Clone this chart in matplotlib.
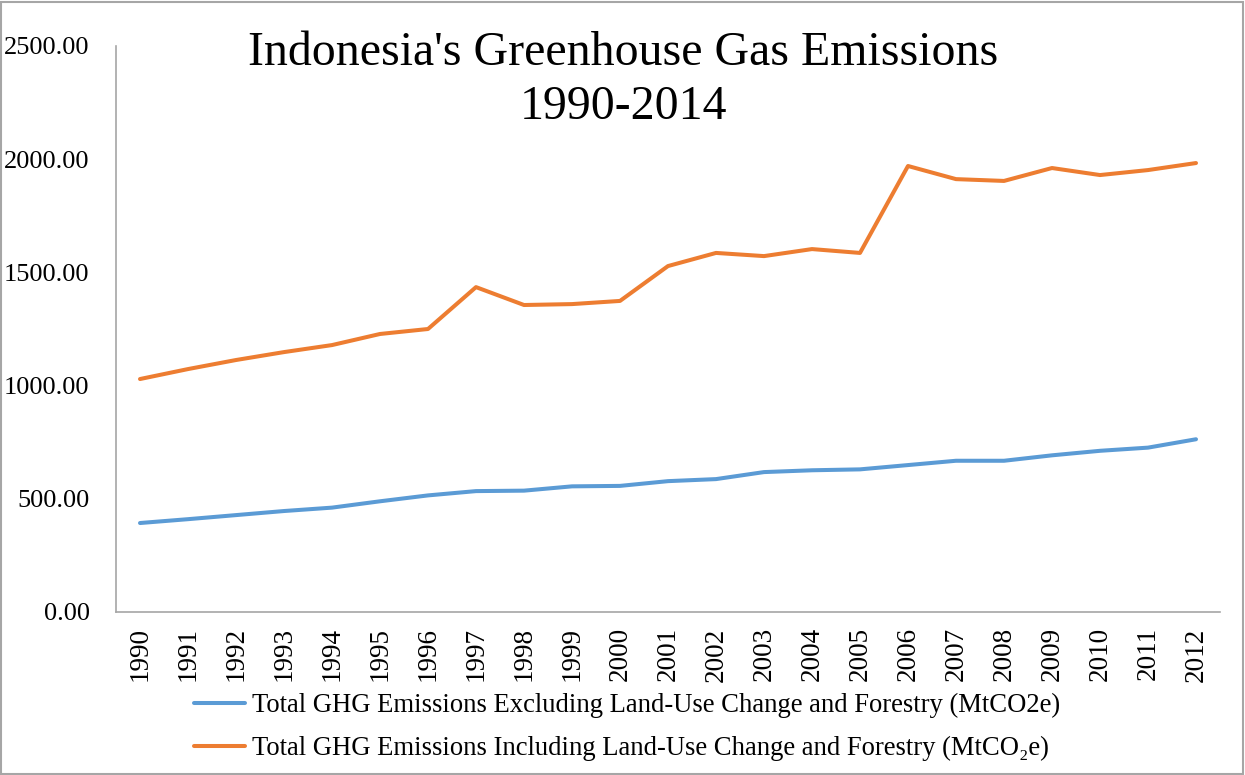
import matplotlib
matplotlib.use('Agg')
import matplotlib.pyplot as plt
from matplotlib.patches import Rectangle

plt.rcParams['font.family'] = ['Liberation Serif', 'DejaVu Serif']

years = [str(y) for y in range(1990, 2013)]

# MtCO2e
excl_lucf = [393, 410, 428, 446, 461, 489, 515, 534, 536, 555, 557, 578,
             587, 618, 626, 630, 649, 668, 668, 692, 712, 726, 763]
incl_lucf = [1029, 1073, 1113, 1148, 1179, 1228, 1250, 1435, 1356, 1360, 1374, 1528,
             1586, 1572, 1603, 1586, 1970, 1912, 1904, 1961, 1930, 1952, 1983]

label_excl = 'Total GHG Emissions Excluding Land-Use Change and Forestry (MtCO2e)'
label_incl = 'Total GHG Emissions Including Land-Use Change and Forestry (MtCO\u2082e)'

W, H = 1245, 775
fig = plt.figure(figsize=(W / 100, H / 100), dpi=100)
ax = fig.add_axes([116 / W, 1 - 612 / H, (1220 - 116) / W, (612 - 46) / H])

x = range(len(years))
l1, = ax.plot(x, excl_lucf, color='#5B9BD5', lw=2.9, solid_capstyle='round')
l2, = ax.plot(x, incl_lucf, color='#ED7D31', lw=2.9, solid_capstyle='round')

ax.set_xlim(-0.5, len(years) - 0.5)
ax.set_ylim(0, 2500)
ax.set_yticks(range(0, 2501, 500))
ax.set_yticklabels([f'{v:.2f}' for v in range(0, 2501, 500)], fontsize=19)
ax.set_xticks(list(x))
ax.set_xticklabels(years, rotation=90, fontsize=19.5)
ax.tick_params(axis='both', length=0)
ax.tick_params(axis='y', pad=19)
ax.tick_params(axis='x', pad=11)

for side in ('top', 'right'):
    ax.spines[side].set_visible(False)
for side in ('left', 'bottom'):
    ax.spines[side].set_color('#a6a6a6')
    ax.spines[side].set_linewidth(1.2)

fig.text(623 / W, 1 - 80 / H, "Indonesia's Greenhouse Gas Emissions\n1990-2014",
         ha='center', va='center', fontsize=34.5, linespacing=1.28)

fig.legend([l1, l2], [label_excl, label_incl], loc='upper left',
           bbox_to_anchor=(194 / W, 1 - 693 / H), frameon=False, fontsize=19.2,
           handlelength=1.9, handletextpad=0.28, labelspacing=0.68, borderpad=0,
           borderaxespad=0)

# thin grey border around the whole chart
fig.patches.append(Rectangle((0.001, 0.001), 0.997, 0.997, transform=fig.transFigure,
                             fill=False, edgecolor='#a6a6a6', lw=1.5))

fig.savefig('out.png', dpi=100)
